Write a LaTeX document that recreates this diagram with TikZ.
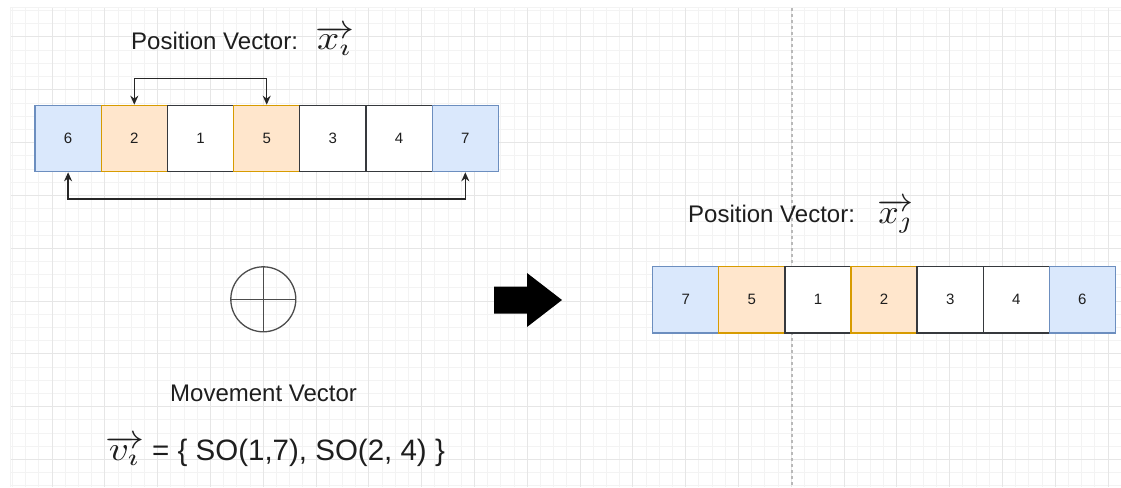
\documentclass[tikz,border=0pt]{standalone}
\usepackage{fontspec}
\setmainfont{Liberation Sans}
\usepackage{graphicx}
\usetikzlibrary{arrows.meta}
\definecolor{blueF}{HTML}{DAE8FC}
\definecolor{blueS}{HTML}{6C8EBF}
\definecolor{orangeF}{HTML}{FFE6CC}
\definecolor{orangeS}{HTML}{D79B00}
\definecolor{darkS}{HTML}{36393D}
\definecolor{gridminor}{HTML}{F3F3F3}
\definecolor{gridmajor}{HTML}{E6E6E6}
\definecolor{txt}{HTML}{1E1E1E}
\begin{document}
\begin{tikzpicture}[x=1pt,y=-1pt,
  cell/.style={draw, line width=1.3pt, minimum width=66.2pt, minimum height=66.3pt,
    inner sep=0pt, font=\fontsize{15}{15}\selectfont, text=txt},
  bluecell/.style={cell, fill=blueF, draw=blueS},
  orangecell/.style={cell, fill=orangeF, draw=orangeS},
  whitecell/.style={cell, fill=white, draw=darkS},
  conn/.style={line width=1.4pt, draw=black!85,
    arrows={Stealth[length=9pt,width=8pt]-Stealth[length=9pt,width=8pt]}},
  label/.style={inner sep=0pt, anchor=base west, text=txt},
  vec/.style={inner sep=0pt, anchor=base west, text=txt},
  gridmin/.style={draw=gridminor, line width=1pt},
  gridmaj/.style={draw=gridmajor, line width=1pt}]
\useasboundingbox (0,0) rectangle (1121,487);
\fill[white] (0,0) rectangle (1121,487);
% grid
\foreach \i in {0,...,84} { \draw[gridmin] (12.4+13.2*\i,8) -- (12.4+13.2*\i,487); }
\foreach \i in {0,...,36} { \draw[gridmin] (10,10.6+13.2*\i) -- (1121,10.6+13.2*\i); }
\foreach \i in {0,...,20} { \draw[gridmaj] (52+52.8*\i,8) -- (52+52.8*\i,487); }
\foreach \i in {0,...,8} { \draw[gridmaj] (10,37+52.8*\i) -- (1121,37+52.8*\i); }
\draw[gridmin] (10,8) -- (10,487);
\draw[gridmin] (10,8) -- (1121,8);
% page break line
\draw[gray!55, line width=1.2pt, dash pattern=on 3pt off 3pt] (792,8) -- (792,487);

% top row
\node[bluecell]   (a1) at (68.1,138.5)  {6};
\node[orangecell] (a2) at (134.3,138.5) {2};
\node[whitecell]  (a3) at (200.5,138.5) {1};
\node[orangecell] (a4) at (266.7,138.5) {5};
\node[whitecell]  (a5) at (332.9,138.5) {3};
\node[whitecell]  (a6) at (399.1,138.5) {4};
\node[bluecell]   (a7) at (465.3,138.5) {7};

\draw[conn] (a2.north) -- ++(0,-26) -| (a4.north);
\draw[conn] (a1.south) -- ++(0,26.5) -| (a7.south);

% titles
\node[label, font=\fontsize{24}{24}\selectfont] (t1) at (131,49) {Position Vector:};
\node[vec] (x1) at (315,50) {\scalebox{3.9}[3.4]{$\overrightarrow{x_\imath}$}};

% plus circle
\node[circle, draw=black!70, line width=1.3pt, minimum size=65pt, inner sep=0pt] (plus) at (263.3,299.3) {};
\draw[black!70, line width=1.3pt] (plus.north) -- (plus.south);
\draw[black!70, line width=1.3pt] (plus.west) -- (plus.east);

% big arrow
\fill[black] (494,286.5) -- (527,286.5) -- (527,273) -- (562,300) -- (527,327) -- (527,313.5) -- (494,313.5) -- cycle;

% movement vector
\node[label, font=\fontsize{24}{24}\selectfont] (mv) at (170,401.5) {Movement Vector};
\node[vec] (v1) at (105,460) {\scalebox{3.9}[3.4]{$\overrightarrow{v_\imath}$}};
\node[label, font=\fontsize{29.5}{30}\selectfont] (eq) at (152,460) {= \{ SO(1,7), SO(2, 4) \}};

% right side
\node[label, font=\fontsize{24}{24}\selectfont] (t2) at (688,222.3) {Position Vector:};
\node[vec] (x2) at (877,223) {\scalebox{3.6}[3.4]{$\overrightarrow{x_\jmath}$}};

\node[bluecell]   (b1) at (685.8,299.7) {7};
\node[orangecell] (b2) at (751.9,299.7) {5};
\node[whitecell]  (b3) at (818.0,299.7) {1};
\node[orangecell] (b4) at (884.1,299.7) {2};
\node[whitecell]  (b5) at (950.2,299.7) {3};
\node[whitecell]  (b6) at (1016.3,299.7) {4};
\node[bluecell]   (b7) at (1082.4,299.7) {6};
\end{tikzpicture}
\end{document}
